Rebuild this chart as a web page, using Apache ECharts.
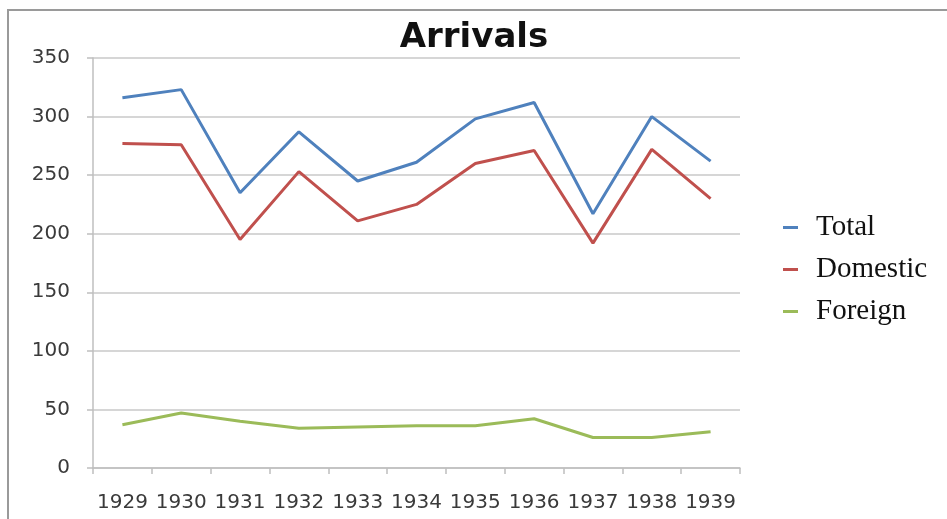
<!DOCTYPE html>
<html>
<head>
<meta charset="utf-8">
<script src="https://cdn.jsdelivr.net/npm/echarts@6/dist/echarts.min.js"></script>
<style>
html,body{margin:0;padding:0;background:#fff;}
#chart{width:947px;height:519px;}
</style>
</head>
<body>
<div id="chart"></div>
<script>
var years = ['1929','1930','1931','1932','1933','1934','1935','1936','1937','1938','1939'];
var total    = [316, 323, 235, 287, 245, 261, 298, 312, 217, 300, 262];
var domestic = [277, 276, 195, 253, 211, 225, 260, 271, 192, 272, 230];
var foreign  = [37, 47, 40, 34, 35, 36, 36, 42, 26, 26, 31];
var seriesNames = ['Total', 'Domestic', 'Foreign'];
var colors = ['#4f81bd', '#c0504d', '#9bbb59'];

var chart = echarts.init(document.getElementById('chart'));
function mk(name, data, color) {
  return {
    name: name, type: 'line', data: data, symbol: 'none',
    lineStyle: {color: color, width: 3}, itemStyle: {color: color},
    animation: false
  };
}
chart.setOption({
  animation: false,
  graphic: [{
    type: 'rect', silent: true,
    shape: {x: 8, y: 10, width: 1000, height: 600},
    style: {fill: 'none', stroke: '#9a9a9a', lineWidth: 2}
  }],
  title: {
    text: 'Arrivals', left: 469, textAlign: 'center', top: 16,
    textStyle: {fontFamily: 'DejaVu Sans', fontWeight: 'bold', fontSize: 34, color: '#111'}
  },
  legend: {
    orient: 'vertical', left: 778, top: 208,
    itemWidth: 15, itemHeight: 3, itemGap: 13,
    icon: 'rect',
    data: seriesNames,
    textStyle: {fontFamily: 'Liberation Serif', fontSize: 29, color: '#111', lineHeight: 28, padding: [0, 0, 0, 13]}
  },
  grid: {left: 93, right: 207, top: 58, bottom: 51, containLabel: false},
  xAxis: {
    type: 'category', data: years, boundaryGap: true,
    axisLine: {lineStyle: {color: '#bfbfbf', width: 1.5}},
    axisTick: {show: true, length: 6, lineStyle: {color: '#bfbfbf', width: 1.5}},
    axisLabel: {fontFamily: 'DejaVu Sans', fontSize: 20, color: '#3a3a3a', margin: 25, interval: 0}
  },
  yAxis: {
    type: 'value', min: 0, max: 350, interval: 50,
    axisLine: {show: true, lineStyle: {color: '#bfbfbf', width: 1.5}},
    axisTick: {show: true, length: 6, lineStyle: {color: '#bfbfbf', width: 1.5}},
    axisLabel: {fontFamily: 'DejaVu Sans', fontSize: 20, color: '#3a3a3a', margin: 23},
    splitLine: {lineStyle: {color: '#d6d6d6', width: 2}}
  },
  series: [
    mk(seriesNames[0], total, colors[0]),
    mk(seriesNames[1], domestic, colors[1]),
    mk(seriesNames[2], foreign, colors[2])
  ]
});
</script>
</body>
</html>
